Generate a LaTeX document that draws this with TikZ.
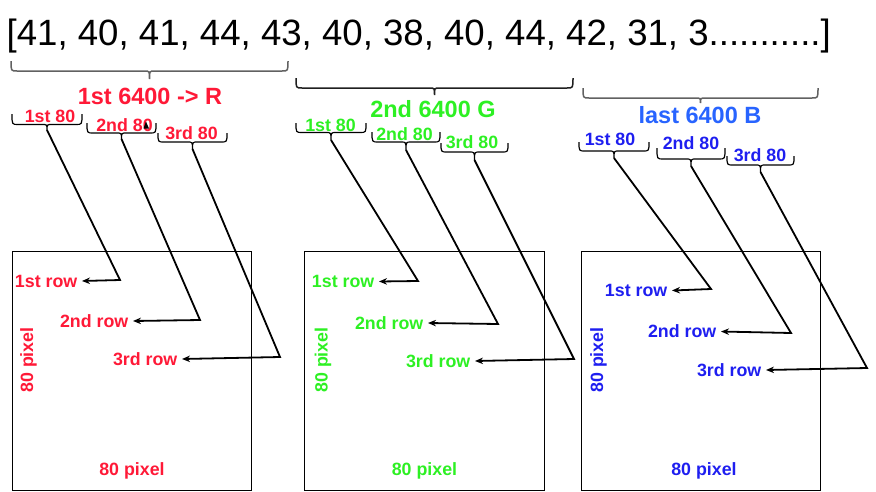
\documentclass[tikz,border=0pt]{standalone}
\usepackage{fontspec}
\setmainfont{Liberation Sans}
\usetikzlibrary{arrows.meta}
\definecolor{cR}{RGB}{255,25,55}
\definecolor{cG}{RGB}{45,240,35}
\definecolor{cB}{RGB}{30,30,240}
\definecolor{cBL}{RGB}{40,100,255}
\newcommand\fsTop{\fontsize{36.6}{40}\selectfont}
\newcommand\fsBig{\fontsize{23.5}{26}\selectfont}
\newcommand\fsSm{\fontsize{17.8}{20}\selectfont}
% brace: [style] x1, x2, ytop, yline, ytip
\newcommand\mybrace[6][]{%
  \draw[#1] (#2,#4) .. controls (#2,#5) .. ({#2+6},#5) -- ({(#2+#3)/2-5},#5)
    .. controls ({(#2+#3)/2},#5) .. ({(#2+#3)/2},#6)
    .. controls ({(#2+#3)/2},#5) .. ({(#2+#3)/2+5},#5) -- ({#3-6},#5)
    .. controls (#3,#5) .. (#3,#4);}
\begin{document}
\begin{tikzpicture}[x=1pt,y=-1pt,
  bigbrace/.style={line width=1.5pt,draw=black!62},
  smbrace/.style={line width=1.2pt,draw=black},
  conn/.style={line width=1.8pt,-{Stealth[length=8pt,width=6.5pt]}},
  lab/.style={font=\fsSm\bfseries,inner sep=0pt,anchor=base},
  biglab/.style={font=\fsBig\bfseries,inner sep=0pt,anchor=base},
  rowlab/.style={font=\fsSm\bfseries,inner sep=4.5pt,anchor=east},
  pixlab/.style={font=\fsSm\bfseries,inner sep=0pt},
  frame/.style={draw=black,line width=1pt}]
\useasboundingbox (0,0) rectangle (876,491);

% top array
\node[font=\fsTop,inner sep=0pt,anchor=base west] (arr) at (6.5,45)
  {[41, 40, 41, 44, 43, 40, 38, 40, 44, 42, 31, 3...........]};

% big braces
\mybrace[bigbrace]{11}{288}{61}{71}{79}
\mybrace[bigbrace,draw=black!88]{296}{573}{78}{88}{95}
\mybrace[bigbrace]{583}{818}{88}{98}{103}
\node[biglab,text=cR] (lR) at (150,104) {1st 6400 -> R};
\node[biglab,text=cG] (lG) at (433,117) {2nd 6400 G};
\node[biglab,text=cBL] (lB) at (700,123) {last 6400 B};

% ---------------- red ----------------
\node[lab,text=cR] (r80a) at (50,122.5) {1st 80};
\node[lab,text=cR] (r80b) at (124.5,131.5) {2nd 80};
\node[lab,text=cR] (r80c) at (191.5,139) {3rd 80};
\mybrace[smbrace]{12}{82}{114}{124.5}{130}
\mybrace[smbrace]{87}{156}{123}{133}{139}
\mybrace[smbrace]{158}{227}{133}{142}{149}
\fill (143.5,128.5) -- (146,121.5) -- (149,128.5) -- cycle;
\coordinate (rt1) at (47,130);
\coordinate (rt2) at (121.5,139);
\coordinate (rt3) at (192.5,149);
\coordinate (rb1) at (120,280);
\coordinate (rb2) at (200,320);
\coordinate (rb3) at (280,357);
\node[frame,minimum width=239pt,minimum height=239pt,anchor=north west,inner sep=0pt] (boxR) at (12,251) {};
\node[rowlab,text=cR] (rr1) at (82,281) {1st row};
\node[rowlab,text=cR] (rr2) at (133,321) {2nd row};
\node[rowlab,text=cR] (rr3) at (182,359) {3rd row};
\node[pixlab,text=cR,rotate=90] (rpv) at (28.5,360) {80 pixel};
\node[pixlab,text=cR] (rph) at (132,471) {80 pixel};
\draw[conn] (rt1) -- (rb1) -- (rr1.east);
\draw[conn] (rt2) -- (rb2) -- (rr2.east);
\draw[conn] (rt3) -- (rb3) -- (rr3.east);

% ---------------- green ----------------
\node[lab,text=cG] (g80a) at (330.5,131.5) {1st 80};
\node[lab,text=cG] (g80b) at (404.5,140.5) {2nd 80};
\node[lab,text=cG] (g80c) at (472,148.5) {3rd 80};
\mybrace[smbrace]{296}{366}{123}{132.5}{140}
\mybrace[smbrace]{372}{440}{132}{142}{150}
\mybrace[smbrace]{441}{508}{143}{152}{160}
\coordinate (gt1) at (331,140);
\coordinate (gt2) at (406,150);
\coordinate (gt3) at (474.5,160);
\coordinate (gb1) at (418,281);
\coordinate (gb2) at (498,324);
\coordinate (gb3) at (574,359);
\node[frame,minimum width=240pt,minimum height=239pt,anchor=north west,inner sep=0pt] (boxG) at (304,251) {};
\node[rowlab,text=cG] (gr1) at (379,281.5) {1st row};
\node[rowlab,text=cG] (gr2) at (428,323) {2nd row};
\node[rowlab,text=cG] (gr3) at (475,361) {3rd row};
\node[pixlab,text=cG,rotate=90] (gpv) at (323,360) {80 pixel};
\node[pixlab,text=cG] (gph) at (424.5,471) {80 pixel};
\draw[conn] (gt1) -- (gb1) -- (gr1.east);
\draw[conn] (gt2) -- (gb2) -- (gr2.east);
\draw[conn] (gt3) -- (gb3) -- (gr3.east);

% ---------------- blue ----------------
\node[lab,text=cB] (b80a) at (610,145) {1st 80};
\node[lab,text=cB] (b80b) at (691,149) {2nd 80};
\node[lab,text=cB] (b80c) at (760,161.5) {3rd 80};
\mybrace[smbrace]{579}{649}{142}{151}{158}
\mybrace[smbrace]{657}{725}{148}{159}{166}
\mybrace[smbrace]{727}{794}{156}{165}{172}
\coordinate (bt1) at (614,158);
\coordinate (bt2) at (691,166);
\coordinate (bt3) at (760.5,172);
\coordinate (bb1) at (711,289);
\coordinate (bb2) at (791,333);
\coordinate (bb3) at (867,368);
\node[frame,minimum width=239pt,minimum height=239pt,anchor=north west,inner sep=0pt] (boxB) at (581,251) {};
\node[rowlab,text=cB] (br1) at (672,290.5) {1st row};
\node[rowlab,text=cB] (br2) at (721,331.5) {2nd row};
\node[rowlab,text=cB] (br3) at (766,370) {3rd row};
\node[pixlab,text=cB,rotate=90] (bpv) at (598.5,360) {80 pixel};
\node[pixlab,text=cB] (bph) at (704,471) {80 pixel};
\draw[conn] (bt1) -- (bb1) -- (br1.east);
\draw[conn] (bt2) -- (bb2) -- (br2.east);
\draw[conn] (bt3) -- (bb3) -- (br3.east);
\end{tikzpicture}
\end{document}
